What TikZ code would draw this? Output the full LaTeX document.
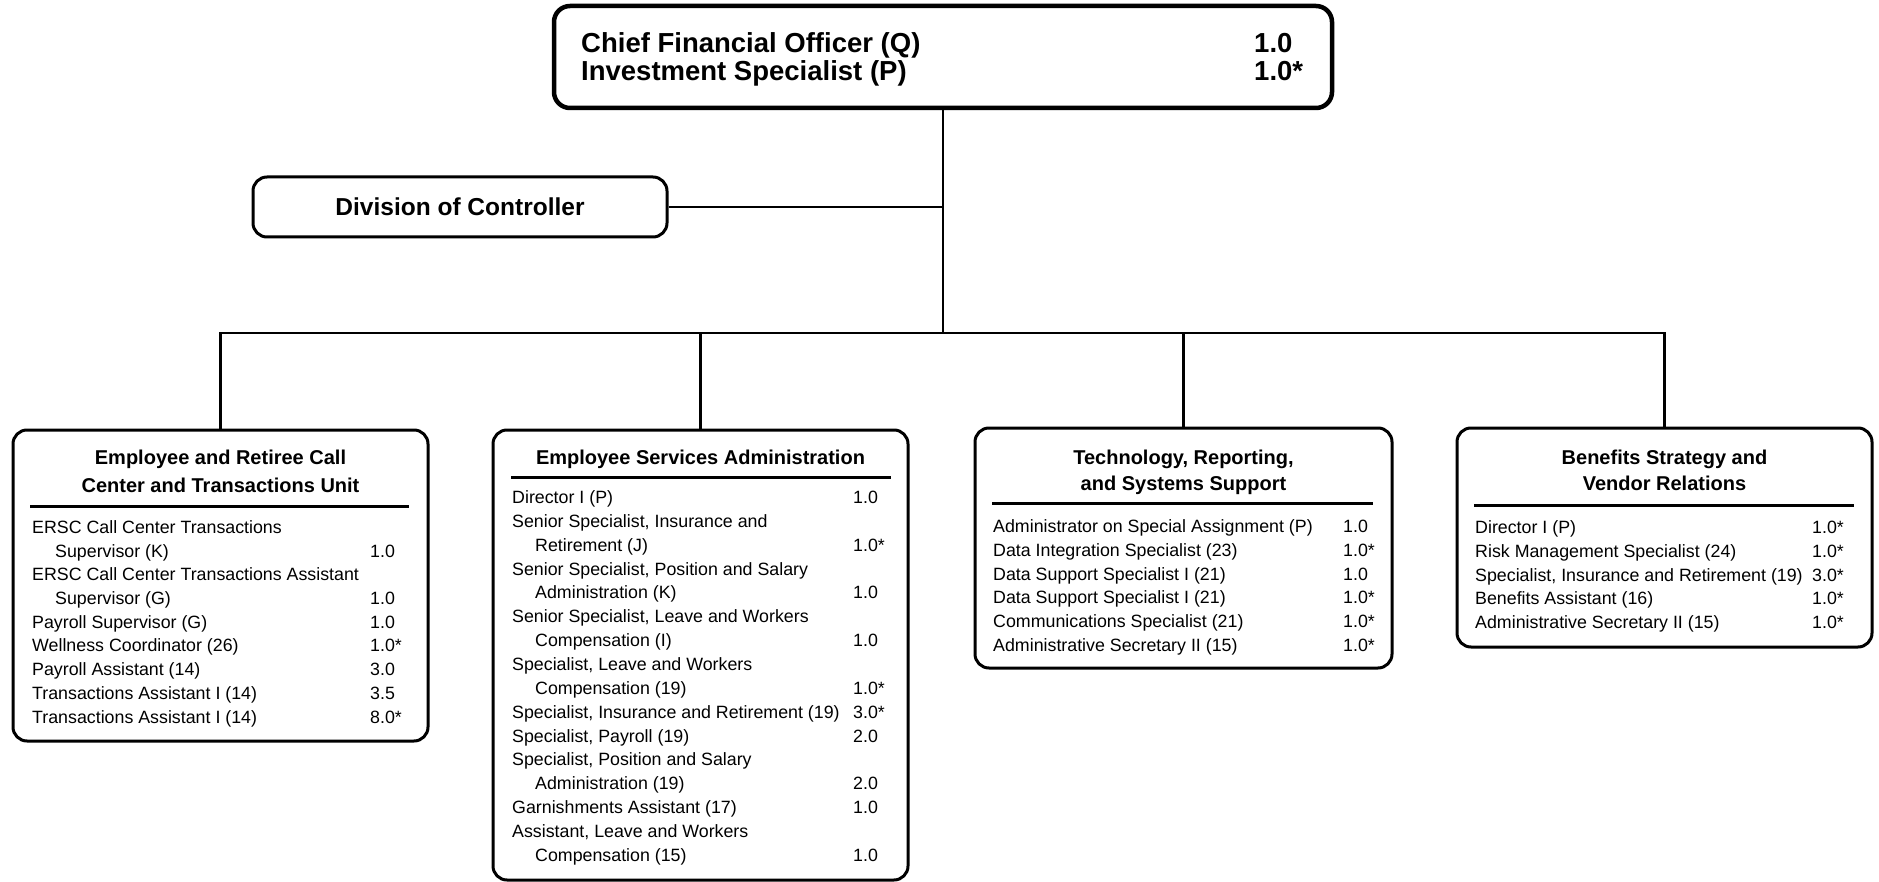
\documentclass[tikz,border=0pt]{standalone}
\usepackage{fontspec}
\setmainfont{Liberation Sans}
\begin{document}
\begin{tikzpicture}[x=1pt,y=-1pt,
  box/.style={draw=black, line width=3pt, rounded corners=14pt, inner sep=0pt, fill=white},
  wire/.style={draw=black, line width=2.3pt},
  rulebar/.style={draw=black, line width=3pt},
  itm/.style={anchor=base west, inner sep=0pt, font=\fontsize{17.8}{20}\selectfont},
  ttl/.style={anchor=base, inner sep=0pt, font=\fontsize{20}{22}\selectfont\bfseries},
  head/.style={anchor=base west, inner sep=0pt, font=\fontsize{27.5}{30}\selectfont\bfseries}]
\useasboundingbox (0,0) rectangle (1879,882);
\fill[white] (0,0) rectangle (1879,882);

% ---- boxes ----
\node[box, line width=4.5pt, rounded corners=16pt, minimum width=778pt, minimum height=102pt] (top) at (943,57) {};
\node[box, minimum width=414pt, minimum height=60pt, font=\fontsize{24.5}{26}\selectfont\bfseries] (div) at (460,207) {Division of Controller};
\node[box, minimum width=415pt, minimum height=311pt] (b1) at (220.5,585.5) {};
\node[box, minimum width=415pt, minimum height=450pt] (b2) at (700.5,655) {};
\node[box, minimum width=417pt, minimum height=240pt] (b3) at (1183.5,548) {};
\node[box, minimum width=415pt, minimum height=219pt] (b4) at (1664.5,537.5) {};

% ---- connectors ----
\coordinate (bus) at (943,333);
\draw[wire] (top.south) -- (bus);
\draw[wire] (div.east) -- (div.east -| top.south);
\draw[wire] (b1.north) |- (bus) -| (b4.north);
\draw[wire] (b2.north) -- (b2.north |- bus);
\draw[wire] (b3.north) -- (b3.north |- bus);

% ---- head office ----
\node[head] (h1) at (581,53) {Chief Financial Officer (Q)};
\node[head] (h1n) at (1254,53) {1.0};
\node[head] (h2) at (581,81) {Investment Specialist (P)};
\node[head] (h2n) at (1254,81) {1.0*};

% ---- unit 1 ----
\node[ttl] (b1a) at (220.5,464) {Employee and Retiree Call};
\node[ttl] (b1b) at (220.5,492) {Center and Transactions Unit};
\draw[rulebar] (30,506) -- (409,506);
\node[itm] (r1a) at (32,{533.4+0*23.7}) {ERSC Call Center Transactions};
\node[itm] (r1b) at (55,{533.4+1*23.7}) {Supervisor (K)};
\node[itm] (r1bn) at (370,{533.4+1*23.7}) {1.0};
\node[itm] (r1c) at (32,{533.4+2*23.7}) {ERSC Call Center Transactions Assistant};
\node[itm] (r1d) at (55,{533.4+3*23.7}) {Supervisor (G)};
\node[itm] (r1dn) at (370,{533.4+3*23.7}) {1.0};
\node[itm] (r1e) at (32,{533.4+4*23.7}) {Payroll Supervisor (G)};
\node[itm] (r1en) at (370,{533.4+4*23.7}) {1.0};
\node[itm] (r1f) at (32,{533.4+5*23.7}) {Wellness Coordinator (26)};
\node[itm] (r1fn) at (370,{533.4+5*23.7}) {1.0*};
\node[itm] (r1g) at (32,{533.4+6*23.7}) {Payroll Assistant (14)};
\node[itm] (r1gn) at (370,{533.4+6*23.7}) {3.0};
\node[itm] (r1h) at (32,{533.4+7*23.7}) {Transactions Assistant I (14)};
\node[itm] (r1hn) at (370,{533.4+7*23.7}) {3.5};
\node[itm] (r1i) at (32,{533.4+8*23.7}) {Transactions Assistant I (14)};
\node[itm] (r1in) at (370,{533.4+8*23.7}) {8.0*};

% ---- unit 2 ----
\node[ttl] (b2a) at (700.5,464) {Employee Services Administration};
\draw[rulebar] (511,477) -- (891,477);
\node[itm] (r2a) at (512,{503.4+0*23.87}) {Director I (P)};
\node[itm] (r2an) at (853,{503.4+0*23.87}) {1.0};
\node[itm] (r2b) at (512,{503.4+1*23.87}) {Senior Specialist, Insurance and};
\node[itm] (r2c) at (535,{503.4+2*23.87}) {Retirement (J)};
\node[itm] (r2cn) at (853,{503.4+2*23.87}) {1.0*};
\node[itm] (r2d) at (512,{503.4+3*23.87}) {Senior Specialist, Position and Salary};
\node[itm] (r2e) at (535,{503.4+4*23.87}) {Administration (K)};
\node[itm] (r2en) at (853,{503.4+4*23.87}) {1.0};
\node[itm] (r2f) at (512,{503.4+5*23.87}) {Senior Specialist, Leave and Workers};
\node[itm] (r2g) at (535,{503.4+6*23.87}) {Compensation (I)};
\node[itm] (r2gn) at (853,{503.4+6*23.87}) {1.0};
\node[itm] (r2h) at (512,{503.4+7*23.87}) {Specialist, Leave and Workers};
\node[itm] (r2i) at (535,{503.4+8*23.87}) {Compensation (19)};
\node[itm] (r2in) at (853,{503.4+8*23.87}) {1.0*};
\node[itm] (r2j) at (512,{503.4+9*23.87}) {Specialist, Insurance and Retirement (19)};
\node[itm] (r2jn) at (853,{503.4+9*23.87}) {3.0*};
\node[itm] (r2k) at (512,{503.4+10*23.87}) {Specialist, Payroll (19)};
\node[itm] (r2kn) at (853,{503.4+10*23.87}) {2.0};
\node[itm] (r2l) at (512,{503.4+11*23.87}) {Specialist, Position and Salary};
\node[itm] (r2m) at (535,{503.4+12*23.87}) {Administration (19)};
\node[itm] (r2mn) at (853,{503.4+12*23.87}) {2.0};
\node[itm] (r2n) at (512,{503.4+13*23.87}) {Garnishments Assistant (17)};
\node[itm] (r2nn) at (853,{503.4+13*23.87}) {1.0};
\node[itm] (r2o) at (512,{503.4+14*23.87}) {Assistant, Leave and Workers};
\node[itm] (r2p) at (535,{503.4+15*23.87}) {Compensation (15)};
\node[itm] (r2pn) at (853,{503.4+15*23.87}) {1.0};

% ---- unit 3 ----
\node[ttl] (b3a) at (1183.5,464) {Technology, Reporting,};
\node[ttl] (b3b) at (1183.5,490) {and Systems Support};
\draw[rulebar] (992,503) -- (1373,503);
\node[itm] (r3a) at (993,{532.4+0*23.8}) {Administrator on Special Assignment (P)};
\node[itm] (r3an) at (1343,{532.4+0*23.8}) {1.0};
\node[itm] (r3b) at (993,{532.4+1*23.8}) {Data Integration Specialist (23)};
\node[itm] (r3bn) at (1343,{532.4+1*23.8}) {1.0*};
\node[itm] (r3c) at (993,{532.4+2*23.8}) {Data Support Specialist I (21)};
\node[itm] (r3cn) at (1343,{532.4+2*23.8}) {1.0};
\node[itm] (r3d) at (993,{532.4+3*23.8}) {Data Support Specialist I (21)};
\node[itm] (r3dn) at (1343,{532.4+3*23.8}) {1.0*};
\node[itm] (r3e) at (993,{532.4+4*23.8}) {Communications Specialist (21)};
\node[itm] (r3en) at (1343,{532.4+4*23.8}) {1.0*};
\node[itm] (r3f) at (993,{532.4+5*23.8}) {Administrative Secretary II (15)};
\node[itm] (r3fn) at (1343,{532.4+5*23.8}) {1.0*};

% ---- unit 4 ----
\node[ttl] (b4a) at (1664.5,464) {Benefits Strategy and};
\node[ttl] (b4b) at (1664.5,490) {Vendor Relations};
\draw[rulebar] (1474,505) -- (1854,505);
\node[itm] (r4a) at (1475,{533.4+0*23.8}) {Director I (P)};
\node[itm] (r4an) at (1812,{533.4+0*23.8}) {1.0*};
\node[itm] (r4b) at (1475,{533.4+1*23.8}) {Risk Management Specialist (24)};
\node[itm] (r4bn) at (1812,{533.4+1*23.8}) {1.0*};
\node[itm] (r4c) at (1475,{533.4+2*23.8}) {Specialist, Insurance and Retirement (19)};
\node[itm] (r4cn) at (1812,{533.4+2*23.8}) {3.0*};
\node[itm] (r4d) at (1475,{533.4+3*23.8}) {Benefits Assistant (16)};
\node[itm] (r4dn) at (1812,{533.4+3*23.8}) {1.0*};
\node[itm] (r4e) at (1475,{533.4+4*23.8}) {Administrative Secretary II (15)};
\node[itm] (r4en) at (1812,{533.4+4*23.8}) {1.0*};
\end{tikzpicture}
\end{document}
